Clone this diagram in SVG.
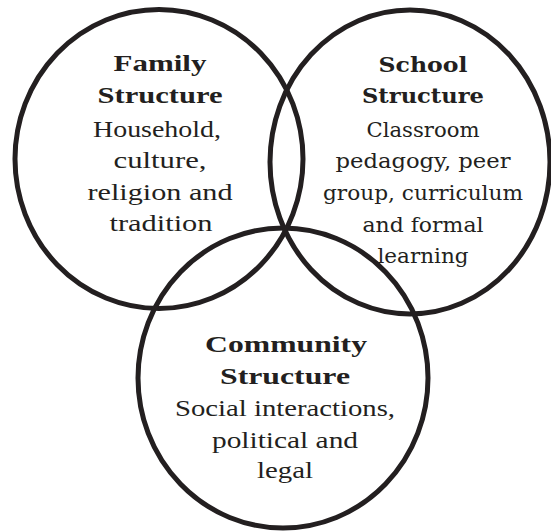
<svg xmlns="http://www.w3.org/2000/svg" width="551" height="531" viewBox="0 0 551 531">
  <style>
    .ring { fill: none; stroke: #231f20; stroke-width: 5; }
    .tx { font-family: "Liberation Serif", "DejaVu Serif", serif; font-size: 23px; fill: #231f20; text-anchor: middle; }
    .tb { font-weight: bold; }
    .sx { font-family: "DejaVu Serif", serif; font-size: 21px; fill: #231f20; text-anchor: middle; }
  </style>
  <rect width="551" height="531" fill="#ffffff"/>

  <!-- left ring -->
  <g id="family">
    <text class="tx tb" x="160" y="71" textLength="93" lengthAdjust="spacingAndGlyphs">Family</text>
    <text class="tx tb" x="160" y="103" textLength="125" lengthAdjust="spacingAndGlyphs">Structure</text>
    <text class="tx" x="157" y="137" textLength="128" lengthAdjust="spacingAndGlyphs">Household,</text>
    <text class="tx" x="160" y="168" textLength="93" lengthAdjust="spacingAndGlyphs">culture,</text>
    <text class="tx" x="160" y="200" textLength="145" lengthAdjust="spacingAndGlyphs">religion and</text>
    <text class="tx" x="161" y="231" textLength="103" lengthAdjust="spacingAndGlyphs">tradition</text>
    <ellipse class="ring" cx="159" cy="159" rx="144" ry="149.5"/>
  </g>

  <!-- right ring -->
  <g id="school">
    <text class="sx tb" x="423" y="72" textLength="89" lengthAdjust="spacingAndGlyphs">School</text>
    <text class="sx tb" x="423" y="103" textLength="122" lengthAdjust="spacingAndGlyphs">Structure</text>
    <text class="sx" x="423" y="137" textLength="113" lengthAdjust="spacingAndGlyphs">Classroom</text>
    <text class="sx" x="423" y="168" textLength="175" lengthAdjust="spacingAndGlyphs">pedagogy, peer</text>
    <text class="sx" x="423" y="200" textLength="200" lengthAdjust="spacingAndGlyphs">group, curriculum</text>
    <text class="sx" x="423" y="232" textLength="121" lengthAdjust="spacingAndGlyphs">and formal</text>
    <text class="sx" x="423" y="263" textLength="91" lengthAdjust="spacingAndGlyphs">learning</text>
    <ellipse class="ring" cx="410" cy="162" rx="140" ry="152"/>
  </g>

  <!-- bottom ring, drawn last so its outline sits over the right ring's text -->
  <g id="community">
    <text class="tx tb" x="286" y="352" textLength="162" lengthAdjust="spacingAndGlyphs">Community</text>
    <text class="tx tb" x="285" y="384" textLength="130" lengthAdjust="spacingAndGlyphs">Structure</text>
    <text class="tx" x="285" y="416" textLength="220" lengthAdjust="spacingAndGlyphs">Social interactions,</text>
    <text class="tx" x="285" y="448" textLength="146" lengthAdjust="spacingAndGlyphs">political and</text>
    <text class="tx" x="285" y="478" textLength="56" lengthAdjust="spacingAndGlyphs">legal</text>
    <ellipse class="ring" cx="283" cy="378" rx="145" ry="150"/>
  </g>

  <g id="connectors"/>
</svg>
